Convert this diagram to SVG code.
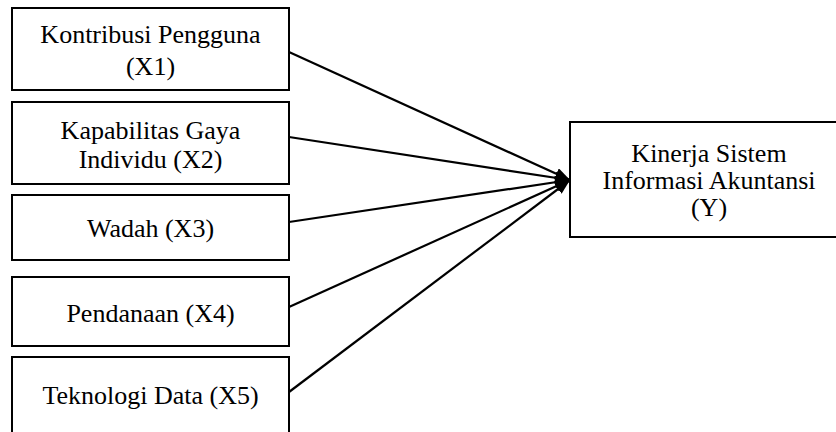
<svg xmlns="http://www.w3.org/2000/svg" width="836" height="432" viewBox="0 0 836 432">
<style>
.box{fill:#fff;stroke:#000;stroke-width:2}
.t{font-family:'Liberation Serif','Times New Roman',serif;font-size:26px;fill:#000;text-anchor:middle}
.c{stroke:#000;stroke-width:2.2;fill:none;marker-end:url(#ah)}
</style>
<defs>
<marker id="ah" markerUnits="userSpaceOnUse" markerWidth="16" markerHeight="12" refX="15" refY="6" orient="auto">
<path d="M0,0 L15,6 L0,12 z" fill="#000"/>
</marker>
</defs>
<rect width="836" height="432" fill="#fff"/>
<g id="x1">
<rect class="box" x="12" y="8" width="277" height="82"/>
<text class="t" x="150.5" y="43">Kontribusi Pengguna</text>
<text class="t" x="150.5" y="75">(X1)</text>
</g>
<g id="x2">
<rect class="box" x="12" y="102" width="277" height="82"/>
<text class="t" x="150.5" y="139">Kapabilitas Gaya</text>
<text class="t" x="150.5" y="168">Individu (X2)</text>
</g>
<g id="x3">
<rect class="box" x="12" y="195" width="277" height="65"/>
<text class="t" x="150.5" y="237">Wadah (X3)</text>
</g>
<g id="x4">
<rect class="box" x="12" y="277" width="277" height="69"/>
<text class="t" x="150.5" y="322">Pendanaan (X4)</text>
</g>
<g id="x5">
<rect class="box" x="12" y="357" width="277" height="82"/>
<text class="t" x="150.5" y="404">Teknologi Data (X5)</text>
</g>
<g id="y">
<rect class="box" x="570" y="122" width="278" height="115"/>
<text class="t" x="709" y="162">Kinerja Sistem</text>
<text class="t" x="709" y="189">Informasi Akuntansi</text>
<text class="t" x="709" y="216">(Y)</text>
</g>
<g id="connectors">
<line class="c" x1="289" y1="52" x2="570" y2="180"/>
<line class="c" x1="289" y1="137" x2="570" y2="180"/>
<line class="c" x1="289" y1="222" x2="570" y2="180"/>
<line class="c" x1="289" y1="307" x2="570" y2="180"/>
<line class="c" x1="289" y1="392" x2="570" y2="180"/>
</g>
</svg>
